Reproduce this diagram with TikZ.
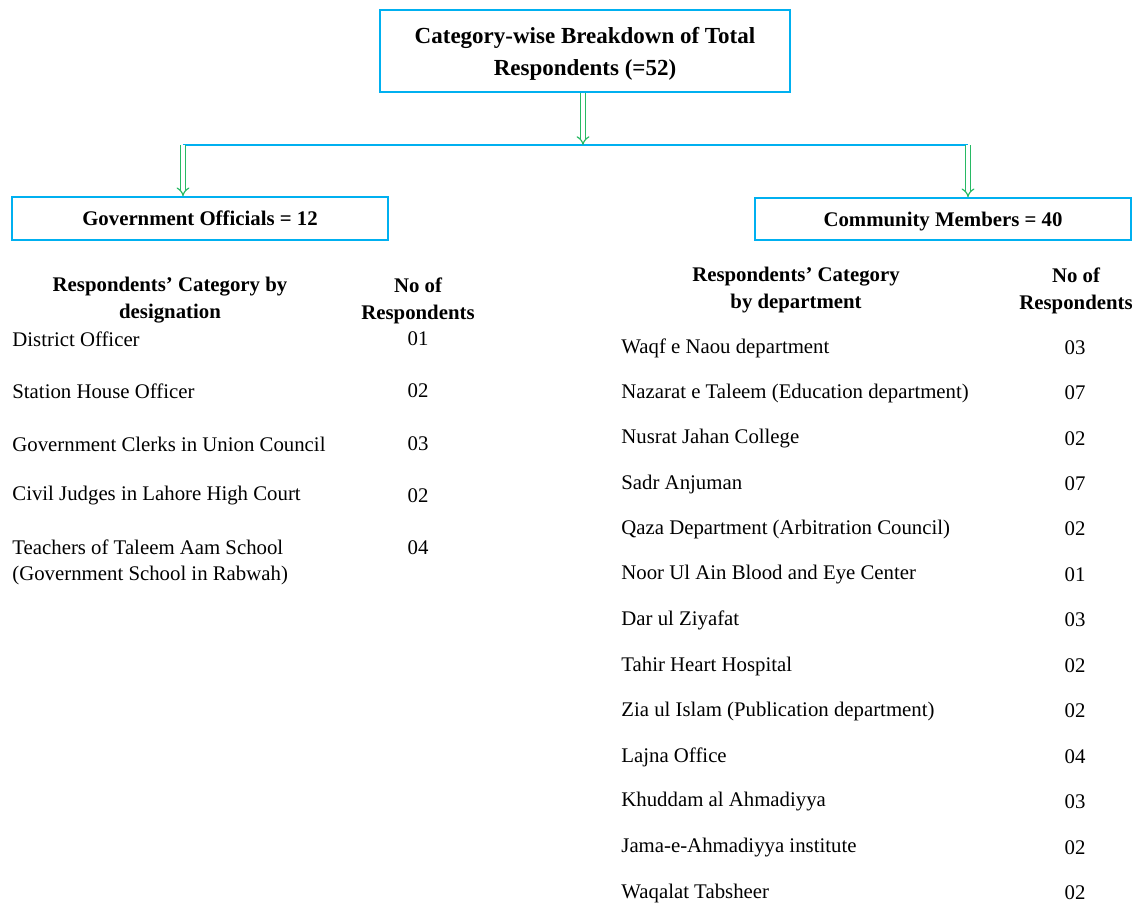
\documentclass[tikz,border=0pt]{standalone}
\usepackage{fontspec}
\setmainfont{Liberation Serif}
\usetikzlibrary{arrows.meta}
\definecolor{boxblue}{RGB}{0,176,240}
\definecolor{arrgreen}{RGB}{40,185,100}

\begin{document}
\begin{tikzpicture}[x=0.5pt, y=-0.5pt,
    box/.style={draw=boxblue, line width=0.8pt, align=center, inner sep=0pt, text depth=0pt,
      font=\fontsize{10.4}{13.5}\selectfont\bfseries},
    hdr/.style={align=center, inner sep=0pt, yshift=-1.5pt, font=\fontsize{10.4}{13.5}\selectfont\bfseries},
    item/.style={anchor=west, inner sep=0pt, yshift=-1pt, font=\fontsize{10.4}{13}\selectfont},
    num/.style={inner sep=0pt, yshift=-1pt, font=\fontsize{10.4}{13}\selectfont},
    hollow/.style={draw=arrgreen, double=white, double distance=1.6pt, line width=0.6pt, -{Implies}}]
      \useasboundingbox (0,0) rectangle (1138,904);

      \node[box, minimum width=205pt, minimum height=41pt,
        font=\fontsize{11.5}{16}\selectfont\bfseries] (total) at (585,51)
        {Category-wise Breakdown of Total\\Respondents (=52)};
      \node[box, minimum width=188pt, minimum height=21.5pt] (gov) at (200,218.5) {Government Officials = 12};
      \node[box, minimum width=188pt, minimum height=21pt] (com) at (943,219) {Community Members = 40};

      \coordinate (mid) at (583,145);
      \coordinate (lft) at (183,145);
      \coordinate (rgt) at (968,145);
      \draw[boxblue, line width=0.8pt] (lft) -- (rgt);
      \draw[hollow] (total.south -| mid) -- (mid);
      \draw[hollow] (lft) -- (lft |- gov.north);
      \draw[hollow] (rgt) -- (rgt |- com.north);

      \node[hdr] (govcat) at (170,297.5) {Respondents’ Category by\\designation};
      \node[hdr] (govno) at (418,297.5) {No of\\Respondents};
      \node[hdr] (comcat) at (796,287.5) {Respondents’ Category\\by department};
      \node[hdr] (comno) at (1076,287.5) {No of\\Respondents};

      \foreach \name/\val/\y [count=\i] in {District Officer/01/337, Station House Officer/02/389,
          Government Clerks in Union Council/03/442, Civil Judges in Lahore High Court/02/494}{
        \node[item] (gi\i) at (12,\y) {\name};
        \node[num] (gn\i) at (418,\y) {\val};
      }
      \node[item, anchor=north west, align=left] (gi5) at (12,537)
        {Teachers of Taleem Aam School\\(Government School in Rabwah)};
      \node[num] (gn5) at (418,546) {04};

      \foreach \name/\val/\y [count=\i] in {Waqf e Naou department/03/346,
          Nazarat e Taleem (Education department)/07/391, Nusrat Jahan College/02/437,
          Sadr Anjuman/07/482, Qaza Department (Arbitration Council)/02/527,
          Noor Ul Ain Blood and Eye Center/01/573, Dar ul Ziyafat/03/618,
          Tahir Heart Hospital/02/664, Zia ul Islam (Publication department)/02/709,
          Lajna Office/04/755, Khuddam al Ahmadiyya/03/800,
          Jama-e-Ahmadiyya institute/02/846, Waqalat Tabsheer/02/891}{
        \node[item] (ci\i) at (621,\y) {\name};
        \node[num] (cn\i) at (1075,\y) {\val};
      }
\end{tikzpicture}
\end{document}
